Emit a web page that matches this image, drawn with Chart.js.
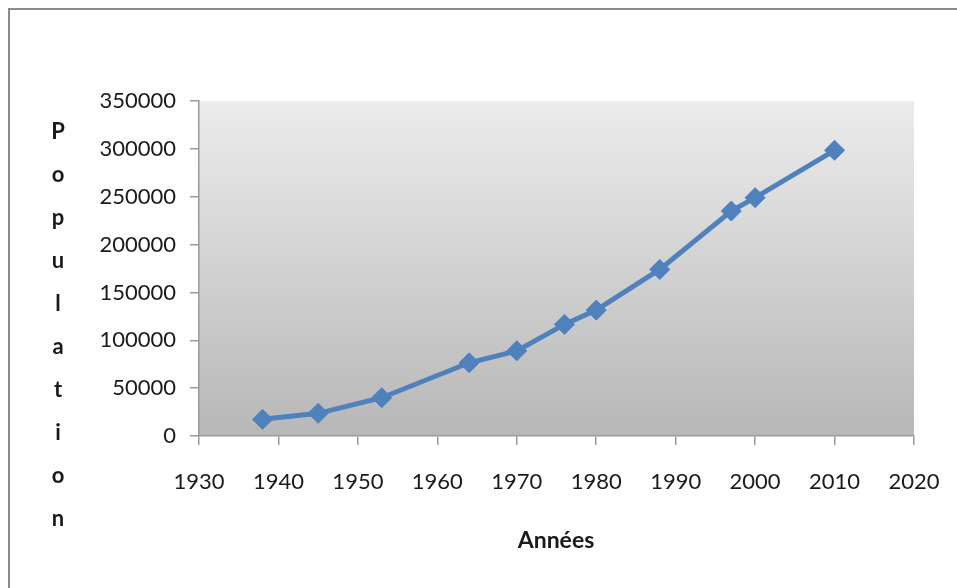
<!DOCTYPE html>
<html>
<head>
<meta charset="utf-8">
<script src="https://cdn.jsdelivr.net/npm/chart.js@4"></script>
<style>
  html, body { margin: 0; padding: 0; background: #fff; }
  #wrap { width: 957px; height: 588px; }
</style>
</head>
<body>
<div id="wrap"><canvas id="chart" width="957" height="588"></canvas></div>
<script>
const years = [1938, 1945, 1953, 1964, 1970, 1976, 1980, 1988, 1997, 2000, 2010];
const population = [17400, 23700, 40000, 76500, 89000, 116600, 131500, 174000, 235000, 249000, 298500];
const yTitle = 'Population';
const xTitle = 'Années';

const blue = '#4f81bd';
const axisGrey = '#9a9a9a';
const textColor = '#1a1a1a';

// frame, gradient plot area and the two axis titles
const decor = {
  id: 'decor',
  beforeDraw(chart) {
    const ctx = chart.ctx;
    const a = chart.chartArea;
    ctx.save();
    ctx.strokeStyle = '#8c8c8c';
    ctx.lineWidth = 2;
    ctx.strokeRect(9, 9, 1000, 700);
    const g = ctx.createLinearGradient(0, a.top, 0, a.bottom);
    g.addColorStop(0, '#ececec');
    g.addColorStop(1, '#b7b7b7');
    ctx.fillStyle = g;
    ctx.fillRect(a.left, a.top, a.right - a.left, a.bottom - a.top);
    ctx.restore();
  },
  afterDraw(chart) {
    const ctx = chart.ctx;
    ctx.save();
    ctx.fillStyle = textColor;
    ctx.textAlign = 'center';
    ctx.textBaseline = 'middle';
    ctx.font = 'bold 22px Lato';
    const letters = yTitle.split('');
    letters.forEach((c, i) => {
      ctx.fillText(c, 58, 132 + i * 43);
    });
    ctx.font = 'bold 23px Lato';
    ctx.fillText(xTitle, 556, 541);
    ctx.restore();
  }
};

new Chart(document.getElementById('chart'), {
  type: 'line',
  data: {
    datasets: [{
      data: years.map((y, i) => ({ x: y, y: population[i] })),
      borderColor: blue,
      backgroundColor: blue,
      borderWidth: 5,
      pointStyle: 'rectRot',
      pointRadius: 10,
      pointBorderWidth: 1,
      pointBorderColor: blue,
      pointBackgroundColor: blue,
      tension: 0
    }]
  },
  options: {
    responsive: false,
    animation: false,
    layout: { padding: { left: 0, top: 101, right: 43, bottom: 0 } },
    plugins: {
      legend: { display: false },
      tooltip: { enabled: false }
    },
    scales: {
      x: {
        type: 'linear',
        min: 1930,
        max: 2020,
        afterFit(scale) {
          scale.height = 152;
          scale.paddingLeft = 0;
          scale.paddingRight = 0;
        },
        border: { display: true, color: axisGrey, width: 1.5 },
        grid: { drawOnChartArea: false, drawTicks: true, tickLength: 9, color: axisGrey, lineWidth: 1.5 },
        ticks: {
          stepSize: 10,
          padding: 24,
          color: textColor,
          font: { family: 'Lato', size: 22 },
          callback: v => String(v)
        }
      },
      y: {
        min: 0,
        max: 350000,
        afterFit(scale) {
          scale.width = 199;
          scale.paddingTop = 0;
          scale.paddingBottom = 0;
        },
        border: { display: true, color: axisGrey, width: 1.5 },
        grid: { drawOnChartArea: false, drawTicks: true, tickLength: 9, color: axisGrey, lineWidth: 1.5 },
        ticks: {
          stepSize: 50000,
          padding: 14,
          color: textColor,
          font: { family: 'Lato', size: 22 },
          callback: v => String(v)
        }
      }
    }
  },
  plugins: [decor]
});
</script>
</body>
</html>
